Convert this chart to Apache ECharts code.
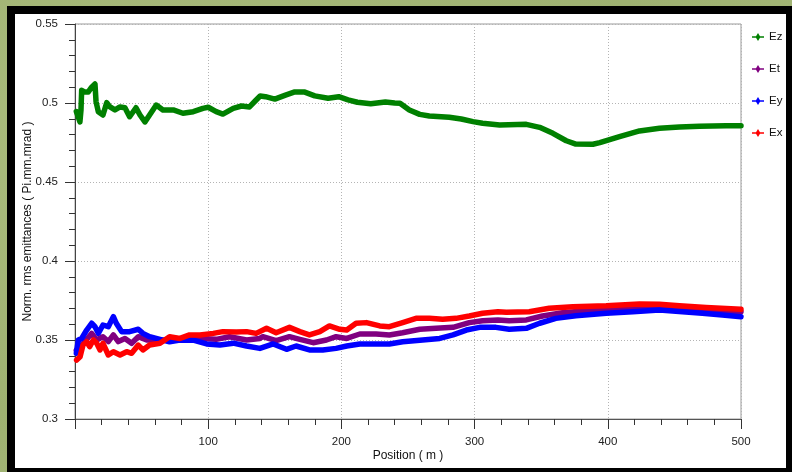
<!DOCTYPE html>
<html>
<head>
<meta charset="utf-8">
<script src="https://cdn.jsdelivr.net/npm/echarts@6/dist/echarts.min.js"></script>
<style>
  html, body { margin: 0; padding: 0; width: 792px; height: 472px; overflow: hidden;
    background: #a3b676; }
  #bg { position: absolute; left: 0; top: 0; width: 792px; height: 472px;
    background: radial-gradient(ellipse at 20% 30%, #abbd7e 0%, #9eb171 60%, #a6b979 100%); }
  #frame { position: absolute; left: 7px; top: 6px; width: 771px; height: 454px;
    background: #fff; border-style: solid; border-color: #000;
    border-width: 8px 6px 5px 8px; }
  #chart { position: absolute; left: 0; top: 0; width: 792px; height: 472px; }
</style>
</head>
<body>
<div id="bg"></div>
<div id="frame"></div>
<div id="chart"></div>
<script>
// Normalised rms emittances along the linac, [position (m), emittance (Pi.mm.mrad)]
const seriesNames = ['Ez', 'Et', 'Ey', 'Ex'];
const seriesColors = ['#008000', '#800080', '#0000ff', '#ff0000'];

const ez = [
  [1,0.4945],[3.7,0.488],[4.5,0.4956],[5,0.508],[7,0.507],[10,0.507],[12.5,0.510],[15,0.512],
  [15.8,0.5008],[17.5,0.4945],[21,0.4924],[23.8,0.5002],[26,0.4977],[30,0.4956],[33.8,0.4975],
  [37.5,0.497],[41,0.4913],[45.8,0.497],[48.8,0.4924],[52.5,0.488],[56,0.4924],[61,0.4987],
  [66,0.4956],[73.8,0.4956],[81,0.4935],[88.8,0.4945],[96,0.4966],[100,0.4973],[106,0.4945],
  [111,0.493],[118.8,0.4966],[125,0.4981],[131,0.4975],[136,0.5019],[139,0.5044],[143,0.504],
  [150,0.5025],[158,0.505],[165,0.507],[172,0.507],[180,0.5045],[190,0.503],[198,0.504],
  [205,0.502],[212,0.5005],[222,0.4995],[233,0.5006],[240,0.5],[244,0.4998],[251,0.4956],
  [258.8,0.4928],[266,0.4918],[281,0.491],[290,0.4899],[298.8,0.4882],[306,0.4872],
  [318.8,0.4861],[338.8,0.4865],[348.8,0.4846],[358.8,0.4808],[368.8,0.4761],[376,0.474],
  [388.8,0.4739],[394,0.4749],[408.8,0.4787],[423.8,0.4823],[438.8,0.484],[453.8,0.4848],
  [468.8,0.4853],[488.8,0.4856],[500,0.4856]
];

const et = [
  [1,0.3435],[2.5,0.3447],[7.5,0.349],[12.5,0.3542],[16.3,0.35],[21,0.3521],[25,0.349],
  [28.8,0.3532],[32.5,0.349],[37.5,0.351],[42.5,0.3479],[47.5,0.3521],[53.8,0.35],
  [63.8,0.3497],[78.8,0.3504],[93.8,0.351],[106,0.3504],[116,0.3521],[128.8,0.35],
  [138.8,0.351],[141,0.3521],[151,0.3496],[161,0.3521],[168.8,0.3504],[178.8,0.3483],
  [188.8,0.35],[196,0.3521],[204,0.351],[213.8,0.3538],[226,0.3538],[236,0.3532],
  [246,0.3546],[258.8,0.3568],[271,0.3574],[283.8,0.358],[296,0.361],[306,0.3622],
  [317.5,0.3627],[326,0.3622],[338.8,0.3627],[351,0.3652],[366,0.3673],[383.8,0.3685],
  [403.8,0.3701],[423.8,0.3705],[441,0.3703],[461,0.3694],[481,0.3685],[500,0.3679]
];

const ey = [
  [1,0.3416],[2.5,0.35],[5,0.351],[8.8,0.3563],[12.5,0.3606],[15,0.3584],[17.5,0.3542],
  [21,0.3595],[25,0.3584],[28.8,0.3648],[31,0.3606],[35,0.3553],[41,0.3553],[47.5,0.3568],
  [51,0.3542],[56,0.3521],[63.8,0.3504],[71,0.3489],[78.8,0.35],[88.8,0.3499],[98.8,0.3475],
  [108.8,0.3468],[118.8,0.348],[128.8,0.3462],[138.8,0.3447],[148.8,0.3475],[158.8,0.3441],
  [166,0.3462],[176,0.3437],[186,0.3437],[196,0.3447],[204,0.3462],[213.8,0.3475],
  [226,0.3475],[236,0.3475],[246,0.3489],[261,0.35],[273.8,0.351],[283.8,0.3532],
  [293.8,0.3563],[303.8,0.358],[316,0.358],[326,0.3568],[338.8,0.3574],[348.8,0.3606],
  [361,0.3637],[376,0.3654],[398.8,0.3669],[418.8,0.3679],[438.8,0.369],[456,0.3679],
  [471,0.3669],[486,0.3658],[500,0.3647]
];

const ex = [
  [1.2,0.3373],[3.8,0.3394],[6,0.3468],[8.8,0.3489],[11,0.3458],[13.8,0.35],[16.3,0.3479],
  [18.8,0.3437],[21,0.3479],[25,0.3405],[28.8,0.3426],[33.8,0.3405],[38.8,0.3426],
  [42.5,0.3416],[47.5,0.3468],[51,0.3437],[56,0.3468],[63.8,0.3479],[71,0.3521],[78.8,0.351],
  [86,0.3532],[93.8,0.3532],[103.8,0.3542],[111,0.3553],[121,0.355],[128.8,0.3553],
  [136,0.3542],[143.8,0.3574],[151,0.3546],[161,0.358],[168.8,0.3553],[176,0.3532],
  [183.8,0.3553],[191,0.3589],[198.8,0.3568],[204,0.3563],[211,0.3606],[218.8,0.361],
  [228.8,0.3589],[236,0.3584],[246,0.361],[256,0.3637],[266,0.3637],[276,0.3631],
  [286,0.3637],[296,0.3652],[306,0.3669],[317.5,0.3679],[323.8,0.3675],[341,0.3679],
  [356,0.3701],[373.8,0.3711],[398.8,0.3717],[423.8,0.3728],[438.8,0.3726],[453.8,0.3717],
  [473.8,0.3705],[500,0.3694]
];

const seriesData = [ez, et, ey, ex];

// Axis ranges and tick spacing
const xMin = 0, xMax = 500, xStep = 100;
const yMin = 0.3, yMax = 0.55, yStep = 0.05;
const xTitle = 'Position ( m )';
const yTitle = 'Norm. rms emittances ( Pi.mm.mrad )';

const font = 'Liberation Sans, Arial, sans-serif';
const legendIcon = 'path://M0,3.2 L4,3.2 L6,0 L8,3.2 L12,3.2 L12,4.8 L8,4.8 L6,8 L4,4.8 L0,4.8 Z';

const chart = echarts.init(document.getElementById('chart'), null, { renderer: 'canvas' });

chart.setOption({
  backgroundColor: 'transparent',
  animation: false,
  grid: { left: 75, top: 24, right: 51, bottom: 53, show: true,
    borderColor: '#9a9a9a', borderWidth: 1, backgroundColor: 'transparent' },
  legend: {
    orient: 'vertical', left: 747, top: 26,
    itemWidth: 12, itemHeight: 8, itemGap: 20,
    icon: legendIcon,
    textStyle: { fontFamily: font, fontSize: 11.5, color: '#111' },
    data: seriesNames.map((n, i) => ({ name: n, itemStyle: { color: seriesColors[i] } }))
  },
  xAxis: {
    type: 'value', min: xMin, max: xMax, interval: xStep,
    name: xTitle, nameLocation: 'middle', nameGap: 31, nameMoveOverlap: false,
    nameTextStyle: { fontFamily: font, fontSize: 12, color: '#111' },
    axisLine: { show: true, onZero: false, lineStyle: { color: '#555', width: 1 } },
    axisTick: { show: true, length: 10, lineStyle: { color: '#333' } },
    minorTick: { show: true, splitNumber: 5, length: 6, lineStyle: { color: '#333' } },
    axisLabel: { margin: 17, fontFamily: font, fontSize: 11.5, color: '#222',
      formatter: v => (v === 0 ? '' : String(v)) },
    splitLine: { show: true, lineStyle: { color: '#b4b4b4', type: [1, 2], width: 1 } }
  },
  yAxis: {
    type: 'value', min: yMin, max: yMax, interval: yStep,
    name: yTitle, nameLocation: 'middle', nameGap: 41, nameRotate: 90, nameMoveOverlap: false,
    nameTextStyle: { fontFamily: font, fontSize: 12, color: '#111' },
    axisLine: { show: true, lineStyle: { color: '#444', width: 1 } },
    axisTick: { show: true, length: 10, lineStyle: { color: '#333' } },
    minorTick: { show: true, splitNumber: 5, length: 6, lineStyle: { color: '#333' } },
    axisLabel: { margin: 17, fontFamily: font, fontSize: 11.5, color: '#222',
      formatter: v => String(+v.toFixed(2)) },
    splitLine: { show: true, lineStyle: { color: '#b4b4b4', type: [1, 2], width: 1 } }
  },
  series: seriesNames.map((n, i) => ({
    name: n, type: 'line', data: seriesData[i],
    showSymbol: false, symbol: 'none',
    lineStyle: { color: seriesColors[i], width: 5.5, cap: 'round', join: 'round' },
    itemStyle: { color: seriesColors[i] },
    clip: true
  }))
});
</script>
</body>
</html>
